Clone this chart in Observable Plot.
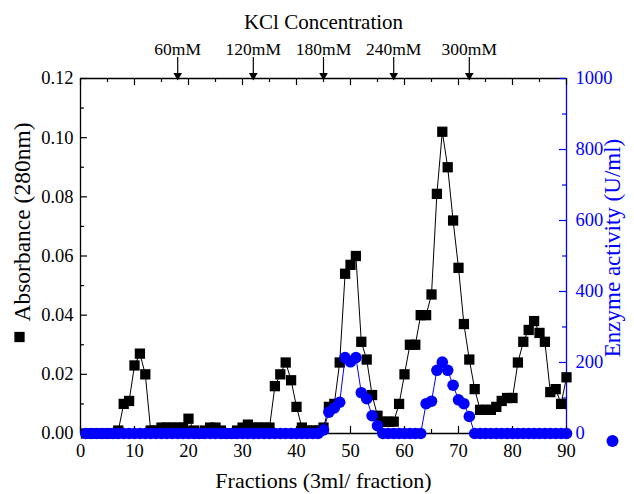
<!DOCTYPE html>
<html>
<head>
<meta charset="utf-8">
<script src="https://cdn.jsdelivr.net/npm/d3@7"></script>
<script src="https://cdn.jsdelivr.net/npm/@observablehq/plot@0.6"></script>
<style>
  body { margin: 0; background: #fff; }
  #chart { width: 634px; height: 494px; }
</style>
</head>
<body>
<div id="chart"></div>
<script>
// ---- data ----
const fractions = [1,2,3,4,5,6,7,8,9,10,11,12,13,14,15,16,17,18,19,20,
  21,22,23,24,25,26,27,28,29,30,31,32,33,34,35,36,37,38,39,40,
  41,42,43,44,45,46,47,48,49,50,51,52,53,54,55,56,57,58,59,60,
  61,62,63,64,65,66,67,68,69,70,71,72,73,74,75,76,77,78,79,80,
  81,82,83,84,85,86,87,88,89,90];
const absorbance = [0,0,0,0,0,0,0.001,0.010,0.011,0.023,0.027,0.020,0.001,0.001,0.002,0.002,0.002,0.002,0.002,0.005,
  0.001,0,0.001,0.002,0.002,0.001,0,0,0.001,0.002,0.003,0.002,0.002,0.002,0.002,0.016,0.020,0.024,0.018,0.009,
  0.002,0.001,0.001,0.001,0.002,0.009,0.010,0.024,0.054,0.057,0.060,0.031,0.025,0.013,0.006,0.004,0.004,0.004,0.010,0.020,
  0.030,0.030,0.040,0.040,0.047,0.081,0.102,0.090,0.072,0.056,0.037,0.025,0.015,0.008,0.008,0.008,0.009,0.011,0.012,0.012,
  0.024,0.031,0.035,0.038,0.034,0.031,0.014,0.015,0.010,0.019];
const enzyme = [0,0,0,0,0,0,0,0,0,0,0,0,0,0,0,0,0,0,0,0,
  0,0,0,0,0,0,0,0,0,0,0,0,0,0,0,0,0,0,0,0,
  0,0,0,0,10,60,72,88,214,202,214,115,98,50,22,0,0,0,0,0,
  0,0,0,84,91,178,201,178,136,95,84,48,0,0,0,0,0,0,0,0,
  0,0,0,0,0,0,0,0,0,0];
const kclFractions = [18, 32, 45, 58, 72];
const kclLabels = ["60mM", "120mM", "180mM", "240mM", "300mM"];
const xTickLabels = [0, 10, 20, 30, 40, 50, 60, 70, 80, 90];
const xMinorTicks = [5, 15, 25, 35, 45, 55, 65, 75, 85];
const absTicks = [0, 0.02, 0.04, 0.06, 0.08, 0.10, 0.12];
const absMinorTicks = [0.01, 0.03, 0.05, 0.07, 0.09, 0.11];
const enzymeTicks = [0, 200, 400, 600, 800, 1000];
const enzymeMinorTicks = [100, 300, 500, 700, 900];

// right axis (0–1000 U/ml) shares the left axis range (0–0.12)
const toAbs = v => v / 1000 * 0.12;

const absData = fractions.map((f, i) => ({f, v: absorbance[i]}));
const enzData = fractions.map((f, i) => ({f, v: toAbs(enzyme[i])}));
const kclData = kclFractions.map((f, i) => ({f, label: kclLabels[i]}));

const BLUE = "#0000ff";
const FONT = "'Liberation Serif', 'DejaVu Serif', serif";
const W = 634, H = 494, ML = 80, MR = 68, MT = 78, MB = 61;
const IH = H - MT - MB;
const IW = W - ML - MR;
const MAJ = 7, MIN = 4;
const TICKFS = 18.5, LABELFS = 22;

const plot = Plot.plot({
  width: W, height: H,
  marginLeft: ML, marginRight: MR, marginTop: MT, marginBottom: MB,
  style: {fontFamily: FONT, fontSize: "16px", background: "#fff", overflow: "visible"},
  x: {domain: [0, 90]},
  y: {domain: [0, 0.12]},
  marks: [
    // frame
    Plot.ruleY([0], {stroke: "#000", strokeWidth: 1.3}),
    Plot.ruleY([0.12], {stroke: "#000", strokeWidth: 1.3}),
    Plot.ruleX([0], {stroke: "#000", strokeWidth: 1.3}),
    Plot.ruleX([90], {stroke: BLUE, strokeWidth: 1.3}),
    // inward ticks: bottom
    Plot.tickX(xTickLabels, {x: d => d, insetTop: IH - MAJ, stroke: "#000", strokeWidth: 1.2}),
    Plot.tickX(xMinorTicks, {x: d => d, insetTop: IH - MIN, stroke: "#000", strokeWidth: 1.2}),
    // top
    Plot.tickX(xTickLabels, {x: d => d, insetBottom: IH - MAJ, stroke: "#000", strokeWidth: 1.2}),
    Plot.tickX(xMinorTicks, {x: d => d, insetBottom: IH - MIN, stroke: "#000", strokeWidth: 1.2}),
    // left
    Plot.tickY(absTicks, {y: d => d, insetRight: IW - MAJ, stroke: "#000", strokeWidth: 1.2}),
    Plot.tickY(absMinorTicks, {y: d => d, insetRight: IW - MIN, stroke: "#000", strokeWidth: 1.2}),
    // right
    Plot.tickY(enzymeTicks.map(toAbs), {y: d => d, insetLeft: IW - MAJ, stroke: BLUE, strokeWidth: 1.2}),
    Plot.tickY(enzymeMinorTicks.map(toAbs), {y: d => d, insetLeft: IW - MIN, stroke: BLUE, strokeWidth: 1.2}),
    // tick labels
    Plot.axisX(xTickLabels, {anchor: "bottom", tickSize: 0, tickPadding: 10, label: null, fontSize: TICKFS, fill: "#000"}),
    Plot.axisY(absTicks, {anchor: "left", tickSize: 0, tickPadding: 7, label: null, tickFormat: d3.format(".2f"), fontSize: TICKFS, fill: "#000"}),
    Plot.axisY(enzymeTicks.map(toAbs), {anchor: "right", tickSize: 0, tickPadding: 9, label: null,
      tickFormat: d => String(Math.round(d / 0.12 * 1000)), fontSize: TICKFS, fill: BLUE}),
    // absorbance
    Plot.line(absData, {x: "f", y: "v", stroke: "#000", strokeWidth: 1}),
    Plot.dot(absData, {x: "f", y: "v", symbol: "square", r: 5.8, fill: "#000", stroke: "none"}),
    // enzyme activity
    Plot.line(enzData, {x: "f", y: "v", stroke: BLUE, strokeWidth: 1}),
    Plot.dot(enzData, {x: "f", y: "v", symbol: "circle", r: 5.8, fill: BLUE, stroke: "none"}),
    // KCl arrows and labels
    Plot.tickX(kclData, {x: "f", insetTop: -21, insetBottom: IH, stroke: "#000", strokeWidth: 1.2}),
    Plot.dot(kclData, {x: "f", frameAnchor: "top", symbol: "triangle", rotate: 180, r: 3.2, dy: -3, fill: "#000", stroke: "none"}),
    Plot.text(kclData, {x: "f", frameAnchor: "top", dy: -36, text: "label", fontSize: 17.5, fill: "#000", textAnchor: "middle"}),
    // titles
    Plot.text(["KCl Concentration"], {frameAnchor: "top", dy: -64, fontSize: 21, fill: "#000", textAnchor: "middle"}),
    Plot.text(["Fractions (3ml/ fraction)"], {frameAnchor: "bottom", dy: 54, fontSize: LABELFS, fill: "#000", textAnchor: "middle"}),
    Plot.text(["Absorbance (280nm)"], {frameAnchor: "left", dx: -58, dy: -34, rotate: -90, fontSize: 23.5, fill: "#000", textAnchor: "middle"}),
    Plot.dot(["abs"], {frameAnchor: "left", dx: -61, dy: 81, symbol: "square", r: 5.8, fill: "#000", stroke: "none"}),
    Plot.text(["Enzyme activity (U/ml)"], {frameAnchor: "right", dx: 46, dy: -8, rotate: -90, fontSize: 23, fill: BLUE, textAnchor: "middle"}),
    Plot.dot(["enz"], {frameAnchor: "right", dx: 46, dy: 185, symbol: "circle", r: 6, fill: BLUE, stroke: "none"})
  ]
});
document.getElementById("chart").appendChild(plot);
</script>
</body>
</html>
